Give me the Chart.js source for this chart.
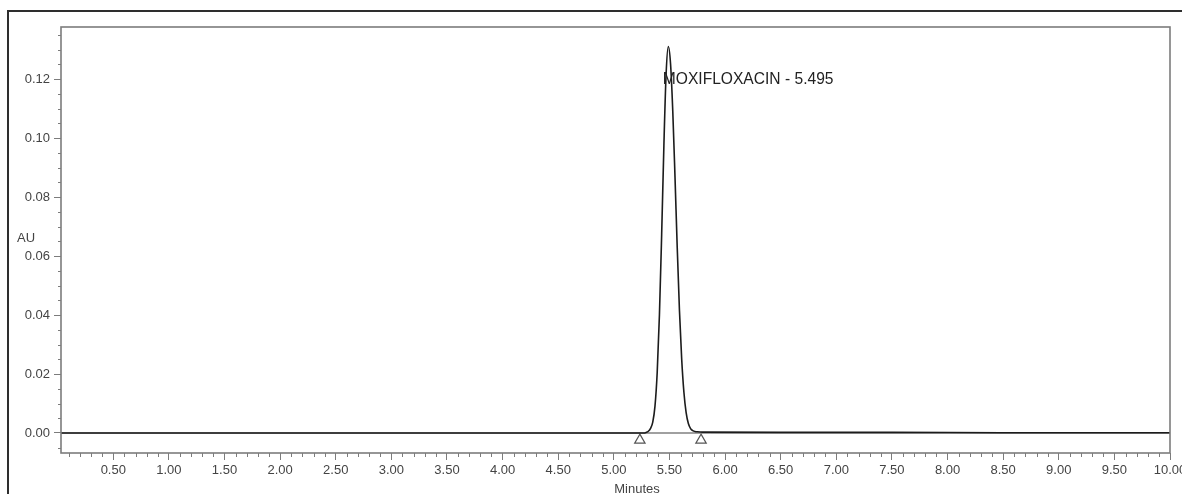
<!DOCTYPE html>
<html>
<head>
<meta charset="utf-8">
<script src="https://cdn.jsdelivr.net/npm/chart.js@4.4.1/dist/chart.umd.min.js"></script>
<style>
  html, body { margin: 0; padding: 0; background: #fff; }
  #wrap { width: 1182px; height: 494px; position: relative; }
</style>
</head>
<body>
<div id="wrap"><canvas id="chart" width="1182" height="494"></canvas></div>
<script>
// chromatogram trace (minutes, AU)
const traceMinutes = [0.03, 1.00, 2.00, 3.00, 4.00, 5.00, 5.20, 5.27, 5.29, 5.31, 5.33, 5.35, 5.37, 5.39, 5.41, 5.43, 5.45, 5.47,
  5.49, 5.51, 5.53, 5.55, 5.57, 5.59, 5.61, 5.63, 5.65, 5.67, 5.69, 5.71, 5.73, 5.75, 5.80, 6.50, 7.50, 8.50, 10.00];
const traceAU = [0.0000, 0.0000, 0.0000, 0.0000, 0.0000, 0.0000, 0.0000, 0.0000, 0.0002, 0.0006, 0.0016, 0.0037, 0.0091, 0.0206, 0.0401, 0.0673, 0.0974, 0.1217,
  0.1310, 0.1251, 0.1090, 0.0867, 0.0628, 0.0415, 0.0251, 0.0138, 0.0069, 0.0032, 0.0015, 0.0008, 0.0005, 0.0004, 0.0003, 0.0002, 0.0002, 0.0001, 0.0001];

// integration start/end markers
const markerMinutes = [5.234, 5.784];
const markerAU = [-0.0024, -0.0024];

const peakName = "MOXIFLOXACIN";
const peakTime = "5.495";
const peakLabelAt = [5.44, 0.1197];

const xTickLabels = ["0.50", "1.00", "1.50", "2.00", "2.50", "3.00", "3.50", "4.00", "4.50", "5.00",
  "5.50", "6.00", "6.50", "7.00", "7.50", "8.00", "8.50", "9.00", "9.50", "10.00"];
const yTickLabels = ["0.00", "0.02", "0.04", "0.06", "0.08", "0.10", "0.12"];

const axisGray = "#7c7c7c";
const fontFam = "'Liberation Sans', Arial, sans-serif";

const decor = {
  id: "decor",
  beforeDatasetsDraw(chart) {
    const { ctx, chartArea: a, scales } = chart;
    const y = scales.y;
    ctx.save();
    // zero line
    ctx.strokeStyle = "#808080";
    ctx.lineWidth = 1.5;
    ctx.beginPath();
    ctx.moveTo(a.left, y.getPixelForValue(0));
    ctx.lineTo(a.right, y.getPixelForValue(0));
    ctx.stroke();
    ctx.restore();
  },
  afterDraw(chart) {
    const { ctx, chartArea: a, scales } = chart;
    const x = scales.x, y = scales.y;
    ctx.save();
    // plot box
    ctx.strokeStyle = axisGray;
    ctx.lineWidth = 1.6;
    ctx.strokeRect(a.left, a.top, a.right - a.left, a.bottom - a.top);
    // minor ticks
    ctx.lineWidth = 1;
    ctx.beginPath();
    for (let i = 1; i < 100; i++) {
      if (i % 5 === 0) continue;
      const px = Math.round(x.getPixelForValue(i / 10)) + 0.5;
      ctx.moveTo(px, a.bottom);
      ctx.lineTo(px, a.bottom + 4);
    }
    for (let i = -1; i <= 27; i++) {
      if (i % 4 === 0) continue;
      const py = Math.round(y.getPixelForValue(i * 0.005)) + 0.5;
      ctx.moveTo(a.left, py);
      ctx.lineTo(a.left - 3, py);
    }
    ctx.stroke();
    // outer frame
    ctx.strokeStyle = "#2e2e2e";
    ctx.lineWidth = 2;
    ctx.beginPath();
    ctx.moveTo(8, 494);
    ctx.lineTo(8, 11);
    ctx.lineTo(1182, 11);
    ctx.stroke();
    // axis titles
    ctx.fillStyle = "#444";
    ctx.font = "13px " + fontFam;
    ctx.textBaseline = "middle";
    ctx.textAlign = "left";
    ctx.fillText("AU", 17, 238);
    ctx.textAlign = "center";
    ctx.fillText("Minutes", 637, 489);
    // peak label
    ctx.fillStyle = "#222";
    ctx.textAlign = "left";
    ctx.font = "15.6px " + fontFam;
    ctx.fillText(peakName + " - " + peakTime, x.getPixelForValue(peakLabelAt[0]), y.getPixelForValue(peakLabelAt[1]));
    ctx.restore();
  }
};

new Chart(document.getElementById("chart").getContext("2d"), {
  type: "line",
  data: {
    datasets: [
      {
        data: traceMinutes.map((t, i) => ({ x: t, y: traceAU[i] })),
        borderColor: "#1c1c1c",
        borderWidth: 1.6,
        pointRadius: 0,
        cubicInterpolationMode: "monotone",
        fill: false
      },
      {
        data: markerMinutes.map((t, i) => ({ x: t, y: markerAU[i] })),
        showLine: false,
        pointStyle: "triangle",
        pointRadius: 6,
        borderColor: "#555",
        backgroundColor: "#fff",
        borderWidth: 1.2
      }
    ]
  },
  options: {
    responsive: false,
    animation: false,
    devicePixelRatio: 1,
    layout: { padding: { top: 27, right: 12, left: 0, bottom: 0 } },
    plugins: { legend: { display: false }, tooltip: { enabled: false } },
    scales: {
      x: {
        type: "linear",
        min: 0.03,
        max: 10.0,
        afterBuildTicks: s => { s.ticks = xTickLabels.map(v => ({ value: parseFloat(v) })); },
        afterFit: s => { s.height = 41; s.paddingLeft = 0; s.paddingRight = 0; },
        border: { display: false },
        grid: { drawOnChartArea: false, drawTicks: true, tickLength: 7, tickColor: axisGray, tickWidth: 1 },
        ticks: {
          autoSkip: false,
          maxRotation: 0,
          padding: 3,
          color: "#444",
          font: { family: fontFam, size: 13 },
          callback: v => Number(v).toFixed(2)
        }
      },
      y: {
        type: "linear",
        min: -0.00678,
        max: 0.13763,
        afterBuildTicks: s => { s.ticks = yTickLabels.map(v => ({ value: parseFloat(v) })); },
        afterFit: s => { s.width = 61; s.paddingTop = 0; s.paddingBottom = 0; },
        border: { display: false },
        grid: { drawOnChartArea: false, drawTicks: true, tickLength: 7, tickColor: axisGray, tickWidth: 1 },
        ticks: {
          autoSkip: false,
          padding: 4,
          color: "#444",
          font: { family: fontFam, size: 13 },
          callback: v => Number(v).toFixed(2)
        }
      }
    }
  },
  plugins: [decor]
});
</script>
</body>
</html>
